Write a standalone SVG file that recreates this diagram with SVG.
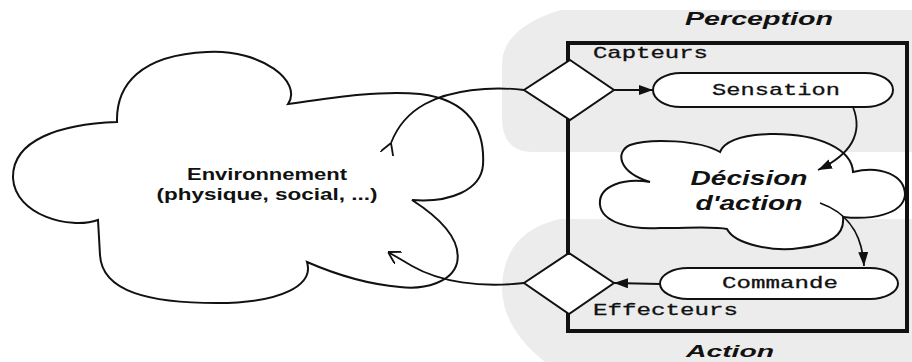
<svg xmlns="http://www.w3.org/2000/svg" width="912" height="362" viewBox="0 0 912 362">
<style>
.line{fill:none;stroke:#111;stroke-width:1.8}
.shape{fill:#fff;stroke:#111;stroke-width:2}
.mono{font-family:"Liberation Mono","Courier New",monospace;font-size:17px;fill:#111;stroke:#111;stroke-width:0.3}
.sans{font-family:"Liberation Sans",Arial,sans-serif;font-weight:bold;fill:#111}
.band{fill:#ececec}
</style>
<defs>
<marker id="filled" viewBox="0 0 14 10" refX="14" refY="5" markerWidth="14" markerHeight="10" markerUnits="userSpaceOnUse" orient="auto"><path d="M0,0 L14,5 L0,10 Z" fill="#111"/></marker>
<marker id="open" viewBox="0 0 12 14" refX="12" refY="7" markerWidth="12" markerHeight="14" markerUnits="userSpaceOnUse" orient="auto"><path d="M0,0 L12,7 L0,14" fill="none" stroke="#111" stroke-width="1.8"/></marker>
</defs>
<g id="bands">
<path class="band" d="M560,10 L912,10 L912,152 L530,152 Q502,150 502,118 L502,62 Q504,28 560,10 Z"/>
<path class="band" d="M560,219 L912,219 L912,362 L545,362 Q504,330 502,290 Q502,232 560,219 Z"/>
</g>
<g id="environnement">
<path class="shape" d="M117,122 C116,85 140,55 207,52 C262,49 303,82 288,104 C330,98 380,90 420,94 C470,100 485,130 483,165 C481,190 450,203 412,200 C440,218 462,240 457,263 C452,282 425,290 400,287 C365,284 330,272 307,262 C314,285 282,303 217,303 C150,303 102,292 100,255 L98,220 C70,230 15,215 13,178 C12,140 60,124 117,122 Z"/>
<text class="sans" x="267" y="180" font-size="16" text-anchor="middle" textLength="160" lengthAdjust="spacingAndGlyphs">Environnement</text>
<text class="sans" x="267" y="200" font-size="16" text-anchor="middle" textLength="221" lengthAdjust="spacingAndGlyphs">(physique, social, ...)</text>
</g>
<g id="systeme">
<rect x="568" y="43" width="339" height="288" fill="none" stroke="#111" stroke-width="4"/>
</g>
<g id="decision">
<path class="shape" d="M650,182 C625,178 598,185 600,205 C602,222 630,230 660,228 C690,228 715,226 727,229 C735,245 775,252 800,248 C830,245 845,235 843,217 C870,220 903,215 905,195 C905,175 880,165 853,172 C852,150 820,133 770,134 C745,135 725,140 720,152 C700,140 650,138 630,145 C615,152 618,172 650,182 Z"/>
<text class="sans" x="749" y="185" font-size="21" font-style="italic" text-anchor="middle" textLength="117" lengthAdjust="spacingAndGlyphs">Décision</text>
<text class="sans" x="749" y="210" font-size="21" font-style="italic" text-anchor="middle" textLength="107" lengthAdjust="spacingAndGlyphs">d'action</text>
</g>
<g id="capteurs">
<polygon class="shape" points="570,60 614,90 570,120 524,90"/>
<text class="mono" x="593" y="58" textLength="115" lengthAdjust="spacingAndGlyphs">Capteurs</text>
</g>
<g id="effecteurs">
<polygon class="shape" points="569,253 614,283 569,314 524,283"/>
<text class="mono" x="593" y="315" textLength="145" lengthAdjust="spacingAndGlyphs">Effecteurs</text>
</g>
<g id="sensation">
<rect class="shape" x="653" y="73" width="240" height="34" rx="28" ry="17"/>
<text class="mono" x="776" y="95" text-anchor="middle" textLength="128" lengthAdjust="spacingAndGlyphs">Sensation</text>
</g>
<g id="commande">
<rect class="shape" x="660" y="268" width="238" height="31" rx="28" ry="15.5"/>
<text class="mono" x="780" y="288" text-anchor="middle" textLength="116" lengthAdjust="spacingAndGlyphs">Commande</text>
</g>
<g id="labels">
<text class="sans" x="759" y="25" font-size="18" font-style="italic" text-anchor="middle" textLength="148" lengthAdjust="spacingAndGlyphs">Perception</text>
<text class="sans" x="730" y="357" font-size="16" font-style="italic" text-anchor="middle" textLength="88" lengthAdjust="spacingAndGlyphs">Action</text>
</g>
<g id="connectors">
<path class="line" d="M391,143 C396,130 405,115 425,104 C450,90 490,86 524,90" marker-start="url(#open)"/>
<path class="line" d="M524,283 C480,288 440,282 412,266 C402,260 395,256 388,252" marker-end="url(#open)"/>
<path class="line" d="M614,90 L653,90" marker-end="url(#filled)"/>
<path class="line" d="M660,284 L614,283" marker-end="url(#filled)"/>
<path class="line" d="M853,107 C862,130 856,152 818,170" marker-end="url(#filled)"/>
<path class="line" d="M820,203 C845,212 862,230 864,266" marker-end="url(#filled)"/>
</g>
</svg>
